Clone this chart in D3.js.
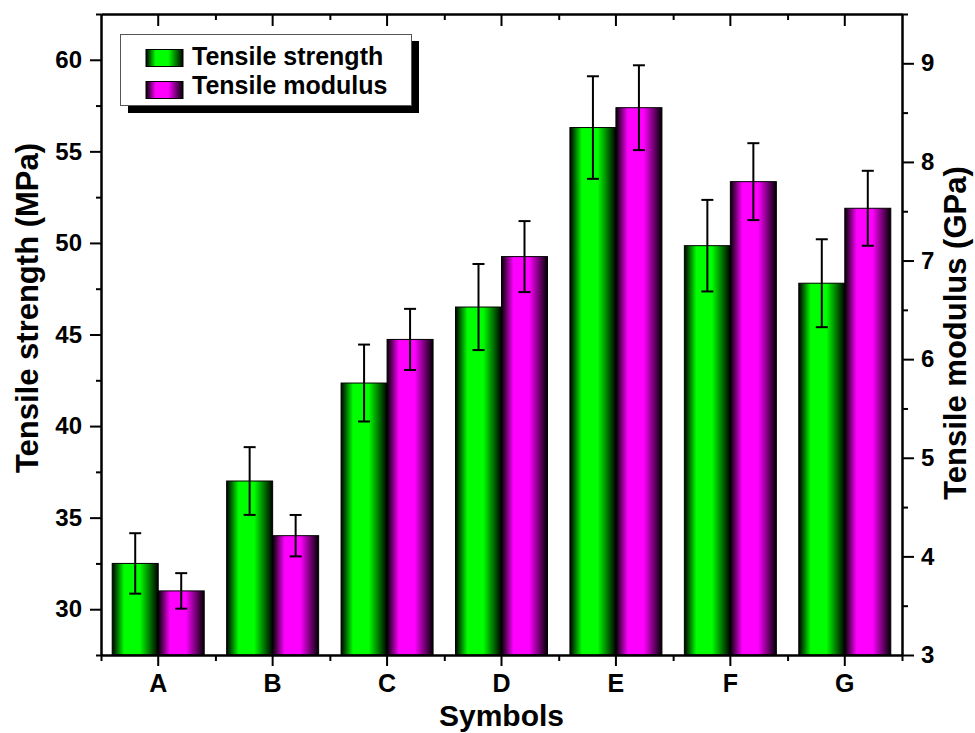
<!DOCTYPE html>
<html>
<head>
<meta charset="utf-8">
<script src="https://cdn.jsdelivr.net/npm/d3@7"></script>
<style>
  body { margin: 0; background: #fff; }
  svg { display: block; font-family: "Liberation Sans", Arial, sans-serif; font-weight: bold; }
</style>
</head>
<body>
<svg id="chart"></svg>
<script>
var categories = ["A", "B", "C", "D", "E", "F", "G"];
var strength = [32.5, 37.0, 42.35, 46.5, 56.3, 49.85, 47.8];
var strengthErr = [1.65, 1.85, 2.1, 2.35, 2.8, 2.5, 2.4];
var modulus = [3.65, 4.21, 6.2, 7.04, 8.55, 7.8, 7.53];
var modulusErr = [0.18, 0.21, 0.31, 0.36, 0.43, 0.39, 0.38];
var leftTicks = [30, 35, 40, 45, 50, 55, 60];
var rightTicks = [3, 4, 5, 6, 7, 8, 9];
var seriesNames = ["Tensile strength", "Tensile modulus"];

var svgWidth = 975, svgHeight = 733;
var plotL = 101, plotR = 902, plotT = 14, plotB = 655;

var svg = d3.select("#chart")
    .attr("width", svgWidth)
    .attr("height", svgHeight);

// gradients for the bars (dark edges, bright middle)
var defs = svg.append("defs");
function makeGrad(id, col) {
    var g = defs.append("linearGradient").attr("id", id)
        .attr("x1", "0%").attr("x2", "100%").attr("y1", "0%").attr("y2", "0%");
    g.append("stop").attr("offset", "0%").attr("stop-color", "#000");
    g.append("stop").attr("offset", "26%").attr("stop-color", col);
    g.append("stop").attr("offset", "60%").attr("stop-color", col);
    g.append("stop").attr("offset", "100%").attr("stop-color", "#000");
}
makeGrad("gGreen", "#00ff00");
makeGrad("gMagenta", "#ff00ff");
var fills = ["url(#gGreen)", "url(#gMagenta)"];

var x = d3.scaleBand().domain(categories).range([plotL, plotR])
    .paddingInner(0.196).paddingOuter(0.098);
var xs = d3.scaleBand().domain([0, 1]).range([0, x.bandwidth()]);
var xEdge = d3.scaleLinear().domain([0, categories.length]).range([plotL, plotR]);
var yL = d3.scaleLinear().domain([27.5, 62.5]).range([plotB, plotT]);
var yR = d3.scaleLinear().domain([3, 9.5]).range([plotB, plotT]);

// bars
var groups = svg.append("g").selectAll("g")
    .data(categories)
    .enter().append("g")
    .attr("transform", function(d) { return "translate(" + x(d) + ",0)"; });

groups.append("rect")
    .attr("x", xs(0))
    .attr("width", xs.bandwidth())
    .attr("y", function(d, i) { return yL(strength[i]); })
    .attr("height", function(d, i) { return yL.range()[0] - yL(strength[i]); })
    .attr("fill", fills[0]).attr("stroke", "#000").attr("stroke-width", 1);

groups.append("rect")
    .attr("x", xs(1))
    .attr("width", xs.bandwidth())
    .attr("y", function(d, i) { return yR(modulus[i]); })
    .attr("height", function(d, i) { return yR.range()[0] - yR(modulus[i]); })
    .attr("fill", fills[1]).attr("stroke", "#000").attr("stroke-width", 1);

// error bars
function errBars(sub, vals, errs, scale) {
    var cx = xs(sub) + xs.bandwidth() / 2;
    var eb = groups.append("g").attr("stroke", "#000").attr("stroke-width", 2);
    eb.append("line")
        .attr("x1", cx).attr("x2", cx)
        .attr("y1", function(d, i) { return scale(vals[i] + errs[i]); })
        .attr("y2", function(d, i) { return scale(vals[i] - errs[i]); });
    [1, -1].forEach(function(s) {
        eb.append("line")
            .attr("x1", cx - 6).attr("x2", cx + 6)
            .attr("y1", function(d, i) { return scale(vals[i] + s * errs[i]); })
            .attr("y2", function(d, i) { return scale(vals[i] + s * errs[i]); });
    });
}
errBars(0, strength, strengthErr, yL);
errBars(1, modulus, modulusErr, yR);

// axes
function styleAxis(g, size) {
    g.attr("font-size", size).attr("font-family", "'Liberation Sans', Arial, sans-serif");
    g.select(".domain").attr("stroke-width", 2);
    g.selectAll(".tick line").attr("stroke-width", 2);
    g.selectAll("text").attr("font-weight", "bold").attr("fill", "#000");
}
var minorL = d3.range(27.5, 63, 5);
var minorR = d3.range(3.5, 9.6, 1);

svg.append("g").attr("transform", "translate(" + plotL + ",0)")
    .call(d3.axisLeft(yL).tickValues(minorL).tickSize(5).tickFormat("").tickSizeOuter(0))
    .call(styleAxis, 24);
svg.append("g").attr("transform", "translate(" + plotL + ",0)")
    .call(d3.axisLeft(yL).tickValues(leftTicks).tickSize(11).tickPadding(8).tickSizeOuter(0))
    .call(styleAxis, 24);

svg.append("g").attr("transform", "translate(" + plotR + ",0)")
    .call(d3.axisRight(yR).tickValues(minorR).tickSize(6).tickFormat("").tickSizeOuter(0))
    .call(styleAxis, 24);
svg.append("g").attr("transform", "translate(" + plotR + ",0)")
    .call(d3.axisRight(yR).tickValues(rightTicks).tickFormat(d3.format("d")).tickSize(12).tickPadding(7).tickSizeOuter(0))
    .call(styleAxis, 24);

svg.append("g").attr("transform", "translate(0," + plotB + ")")
    .call(d3.axisBottom(xEdge).tickValues(d3.range(0, categories.length + 1)).tickSize(6).tickFormat("").tickSizeOuter(0))
    .call(styleAxis, 25);
svg.append("g").attr("transform", "translate(0," + plotB + ")")
    .call(d3.axisBottom(x).tickSize(11).tickPadding(8).tickSizeOuter(0))
    .call(styleAxis, 25);

svg.append("g").attr("transform", "translate(0," + plotT + ")")
    .call(d3.axisTop(xEdge).tickValues(d3.range(1, categories.length)).tickSize(-6).tickFormat("").tickSizeOuter(0))
    .call(styleAxis, 24);
svg.append("g").attr("transform", "translate(0," + plotT + ")")
    .call(d3.axisTop(x).tickSize(-12).tickFormat("").tickSizeOuter(0))
    .call(styleAxis, 24);

// axis titles
svg.append("text")
    .attr("transform", "translate(38,308) rotate(-90)")
    .attr("text-anchor", "middle").attr("font-size", 31)
    .text("Tensile strength (MPa)");
svg.append("text")
    .attr("transform", "translate(966,333) rotate(-90)")
    .attr("text-anchor", "middle").attr("font-size", 31)
    .text("Tensile modulus (GPa)");
svg.append("text")
    .attr("x", (plotL + plotR) / 2).attr("y", 726)
    .attr("text-anchor", "middle").attr("font-size", 30)
    .text("Symbols");

// legend with drop shadow
var lg = svg.append("g");
lg.append("rect").attr("x", 128).attr("y", 41).attr("width", 291).attr("height", 72).attr("fill", "#000");
lg.append("rect").attr("x", 120.5).attr("y", 34.5).attr("width", 291).attr("height", 71)
    .attr("fill", "#fff").attr("stroke", "#555").attr("stroke-width", 1);
seriesNames.forEach(function(name, i) {
    lg.append("rect").attr("x", 146).attr("y", 49.5 + i * 32).attr("width", 37).attr("height", 17)
        .attr("fill", fills[i]).attr("stroke", "#000").attr("stroke-width", 1);
    lg.append("text").attr("x", 192).attr("y", 65 + i * 29).attr("font-size", 25).text(name);
});
</script>
</body>
</html>
